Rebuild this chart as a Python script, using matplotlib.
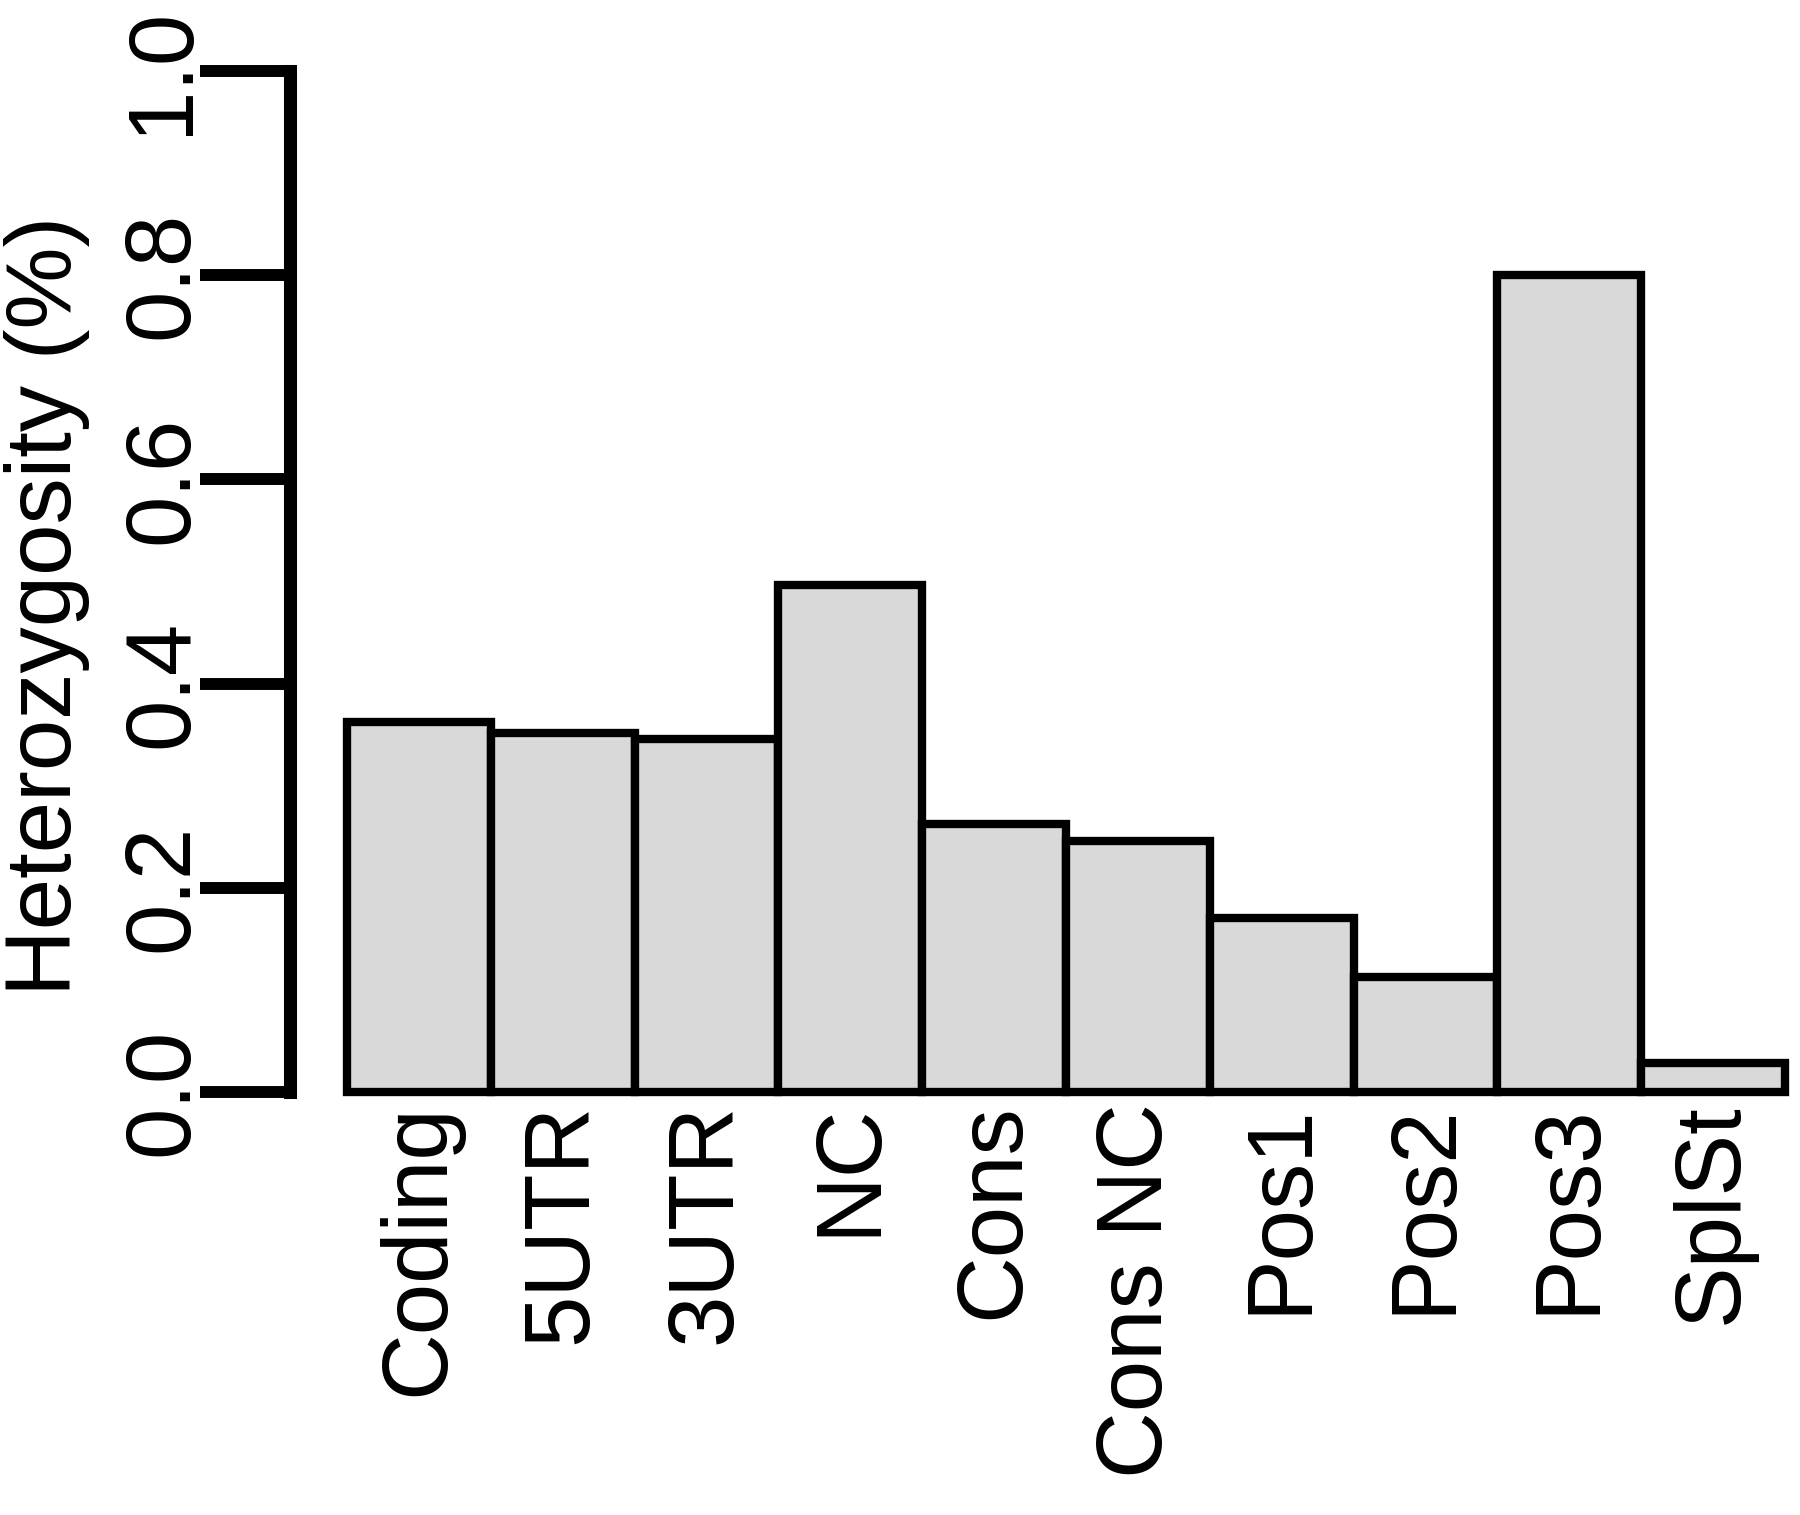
import matplotlib
matplotlib.use("Agg")
import matplotlib.pyplot as plt
import matplotlib.transforms as mtransforms

categories = ["Coding", "5UTR", "3UTR", "NC", "Cons", "Cons NC",
              "Pos1", "Pos2", "Pos3", "SplSt"]
values = [0.362, 0.352, 0.346, 0.497, 0.262, 0.246, 0.170, 0.113, 0.800, 0.028]
yticks = [0.0, 0.2, 0.4, 0.6, 0.8, 1.0]
yticklabels = ["0.0", "0.2", "0.4", "0.6", "0.8", "1.0"]
ylabel = "Heterozygosity (%)"

W, H = 1800, 1515
DPI = 100
plt.rcParams['font.family'] = ['Liberation Sans', 'DejaVu Sans']
FS = 66.5

fig = plt.figure(figsize=(W / DPI, H / DPI), dpi=DPI)
fig.patch.set_facecolor("white")

left_px, top_px, bottom_px = 289.5, 71, 1092
bar_w_px = 143.8
xmin = -0.4
xmax = xmin + (W - left_px) / bar_w_px
ax = fig.add_axes([left_px / W, 1 - bottom_px / H, (W - left_px) / W,
                   (bottom_px - top_px) / H])
ax.set_xlim(xmin, xmax)
ax.set_ylim(0, 1)
ax.patch.set_alpha(0)

x = [i + 0.5 for i in range(len(categories))]
ax.bar(x, values, width=1.0, color="#d9d9d9", edgecolor="black",
       linewidth=6.0, clip_on=False, zorder=2)

for s in ["top", "right", "bottom"]:
    ax.spines[s].set_visible(False)
ax.spines["left"].set_linewidth(9.4)
ax.spines["left"].set_bounds(0, 1)
ax.spines["left"].set_capstyle("projecting")

ax.set_xticks([])
ax.set_yticks(yticks)
ax.set_yticklabels(yticklabels, rotation=90, va="center")
ax.tick_params(axis="y", length=65, width=8.6, pad=-5, labelsize=FS,
               direction="out")

trans = mtransforms.blended_transform_factory(ax.transData, ax.transAxes)
label_y = -(1103 - bottom_px) / (bottom_px - top_px)
for xi, lab in zip(x, categories):
    ax.text(xi, label_y, lab, rotation=90, ha="center", va="top",
            fontsize=FS, transform=trans, clip_on=False)

fig.text(0.026, 1 - 606 / H, ylabel, rotation=90, ha="center", va="center",
         fontsize=FS)

fig.savefig("out.png", dpi=DPI)
